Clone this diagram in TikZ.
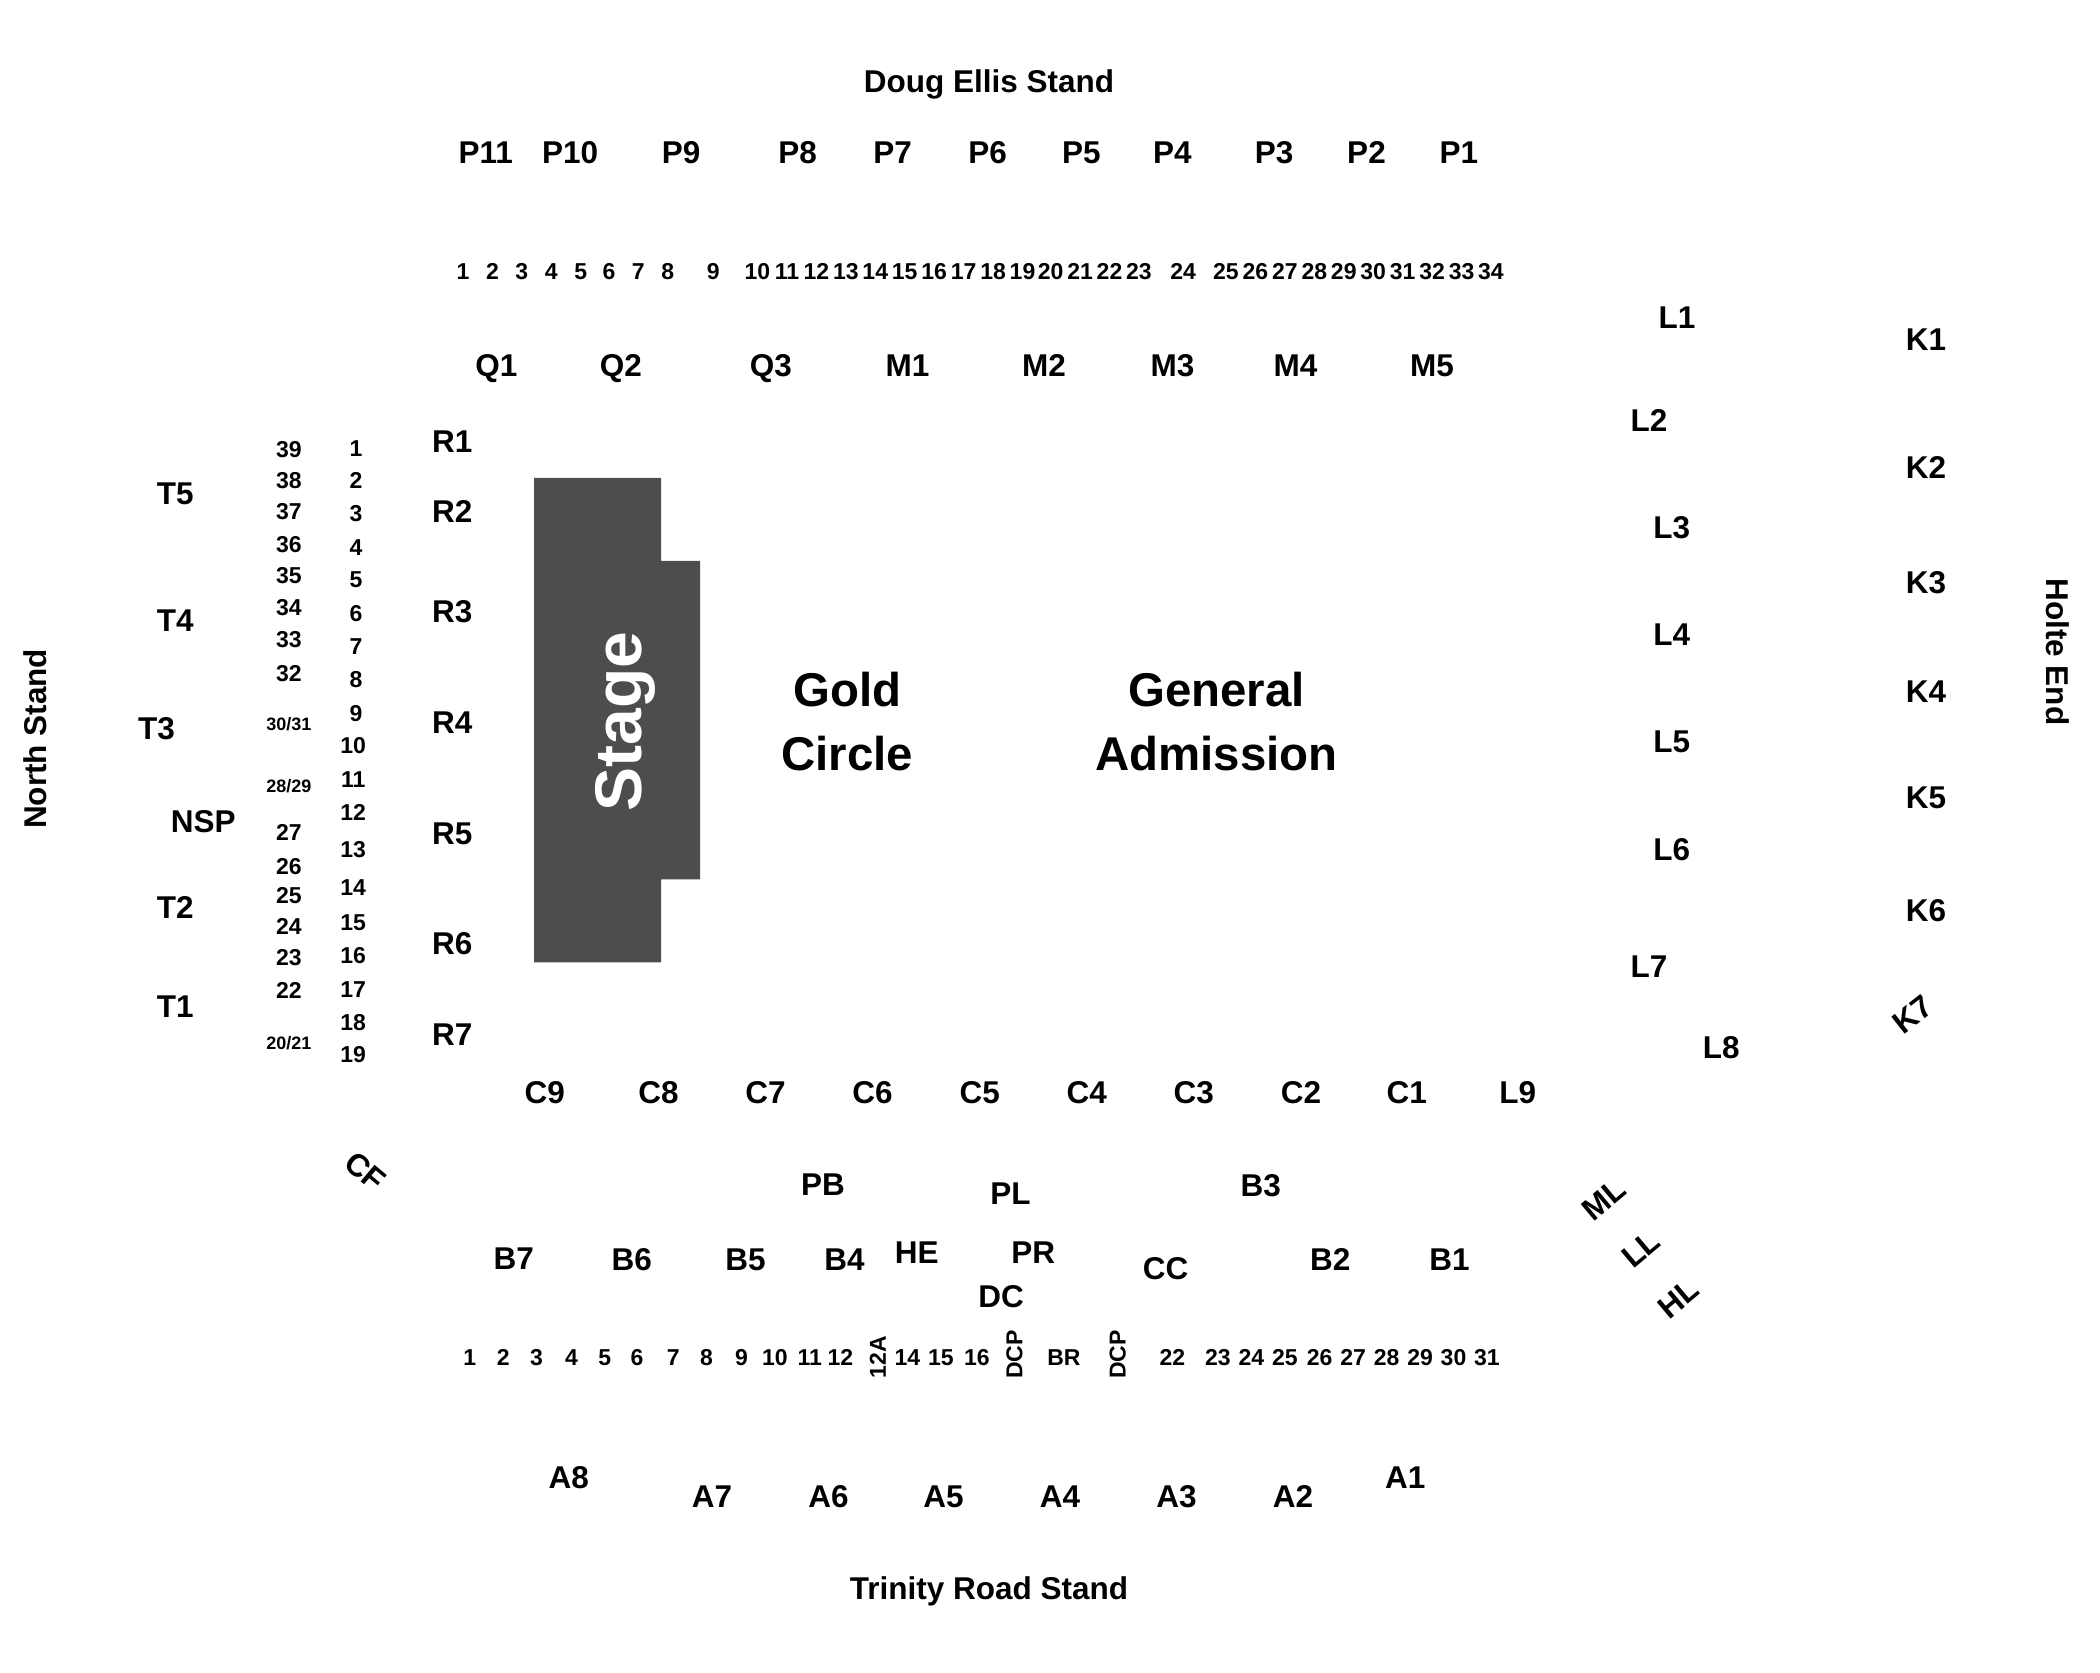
\documentclass[tikz,border=0pt]{standalone}
\usepackage{fontspec}
\setmainfont{Liberation Sans}
\tikzset{
  blockname/.style={font=\bfseries\fontsize{15.75}{18}\selectfont, inner sep=0pt, text height=10.9pt, text depth=0pt, xshift=0.6pt},
  rowname/.style={font=\bfseries\fontsize{11.5}{13}\selectfont, inner sep=0pt, text height=8pt, text depth=0pt, xshift=0.6pt},
  smallname/.style={font=\bfseries\fontsize{9}{11}\selectfont, inner sep=0pt, text height=6.3pt, text depth=0pt, xshift=0.6pt},
  areaname/.style={font=\bfseries\fontsize{23.7}{32}\selectfont, inner sep=0pt, align=center, xshift=0.6pt}
}
\definecolor{stagegray}{HTML}{4D4D4D}
\begin{document}
\begin{tikzpicture}[x=0.66925pt,y=-0.66925pt]
    \useasboundingbox (0,0) rectangle (1568.9,1249.2);

    \fill[stagegray] (399,357) -- (494,357) -- (494,419) -- (523,419) -- (523,657) -- (494,657) -- (494,719) -- (399,719) -- cycle;
    \node[font=\bfseries\fontsize{33}{38}\selectfont, text=white, rotate=90, inner sep=0pt] (stage) at (467,539) {Stage};
    \node[areaname] (gold) at (632,539) {Gold\\Circle};
    \node[areaname] (general) at (908,539) {General\\Admission};

    % stands
    \node[blockname] (doug) at (738,61) {Doug Ellis Stand};
    \node[blockname] (trinity) at (738,1187) {Trinity Road Stand};
    \node[blockname, rotate=90] (north) at (26,552) {North Stand};
    \node[blockname, rotate=-90] (holte) at (1536,487) {Holte End};

    % blocks
    \foreach \px/\py/\lbl in {362/114/P11, 425/114/P10, 508/114/P9, 595/114/P8, 666/114/P7, 737/114/P6, 807/114/P5, 875/114/P4, 951/114/P3, 1020/114/P2, 1089/114/P1,
        370/273/Q1, 463/273/Q2, 575/273/Q3, 677/273/M1, 779/273/M2, 875/273/M3, 967/273/M4, 1069/273/M5,
        337/330/R1, 337/382/R2, 337/457/R3, 337/540/R4, 337/623/R5, 337/705/R6, 337/773/R7,
        130/369/T5, 130/464/T4, 116/544/T3, 151/614/NSP, 130/678/T2, 130/752/T1,
        1252/237/L1, 1231/314/L2, 1248/394/L3, 1248/474/L4, 1248/554/L5, 1248/635/L6, 1231/722/L7, 1285/783/L8, 1133/816/L9,
        1438/254/K1, 1438/349/K2, 1438/435/K3, 1438/517/K4, 1438/596/K5, 1438/680/K6,
        406/816/C9, 491/816/C8, 571/816/C7, 651/816/C6, 731/816/C5, 811/816/C4, 891/816/C3, 971/816/C2, 1050/816/C1,
        614/885/PB, 754/892/PL, 941/886/B3, 383/940/B7, 471/941/B6, 556/941/B5, 630/941/B4, 684/936/HE, 771/936/PR, 870/948/CC, 993/941/B2, 1082/941/B1, 747/969/DC,
        424/1104/A8, 531/1118/A7, 618/1118/A6, 704/1118/A5, 791/1118/A4, 878/1118/A3, 965/1118/A2, 1049/1104/A1}
        \node[blockname] (block\lbl) at (\px,\py) {\lbl};
    \node[blockname, rotate=-40] (blockCF) at (272,875) {CF};
    \node[blockname, rotate=40] (blockML) at (1197,896) {ML};
    \node[blockname, rotate=40] (blockLL) at (1225,933) {LL};
    \node[blockname, rotate=40] (blockHL) at (1253,970) {HL};
    \node[blockname, rotate=38] (blockK7) at (1428,758) {K7};

    % top row
    \foreach \px [count=\i] in {345,367,389,411,433,454,476,498,532,565,587,609,631,653,675,697,719,741,763,784,806,828,850,883,915,937,959,981,1003,1025,1047,1069,1091,1113}
        \node[rowname] (top\i) at (\px,203) {\i};

    % left columns
    \foreach \py/\lbl in {336/39, 359/38, 382/37, 407/36, 430/35, 454/34, 478/33, 503/32, 622/27, 647/26, 669/25, 692/24, 715/23, 740/22}
        \node[rowname] (left\lbl) at (215,\py) {\lbl};
    \node[smallname] (left30) at (215,541) {30/31};
    \node[smallname] (left28) at (215,587) {28/29};
    \node[smallname] (left20) at (215,779) {20/21};
    \foreach \px/\py [count=\i] in {265/335,265/359,265/384,265/409,265/433,265/458,265/483,265/508,265/533,263/557,263/582,263/607,263/635,263/663,263/689,263/714,263/739,263/764,263/788}
        \node[rowname] (right\i) at (\px,\py) {\i};

    % bottom row
    \foreach \px/\lbl in {350/1,375/2,400/3,426/4,451/5,475/6,502/7,527/8,553/9,578/10,604/11,627/12,677/14,702/15,729/16,794/BR,875/22,909/23,934/24,959/25,985/26,1010/27,1035/28,1060/29,1085/30,1110/31}
        \node[rowname] (low\lbl) at (\px,1014) {\lbl};
    \node[rowname, rotate=90] (low12A) at (655,1014) {12A};
    \node[rowname, rotate=90] (lowDCPa) at (757,1012) {DCP};
    \node[rowname, rotate=90] (lowDCPb) at (834,1012) {DCP};
\end{tikzpicture}
\end{document}
